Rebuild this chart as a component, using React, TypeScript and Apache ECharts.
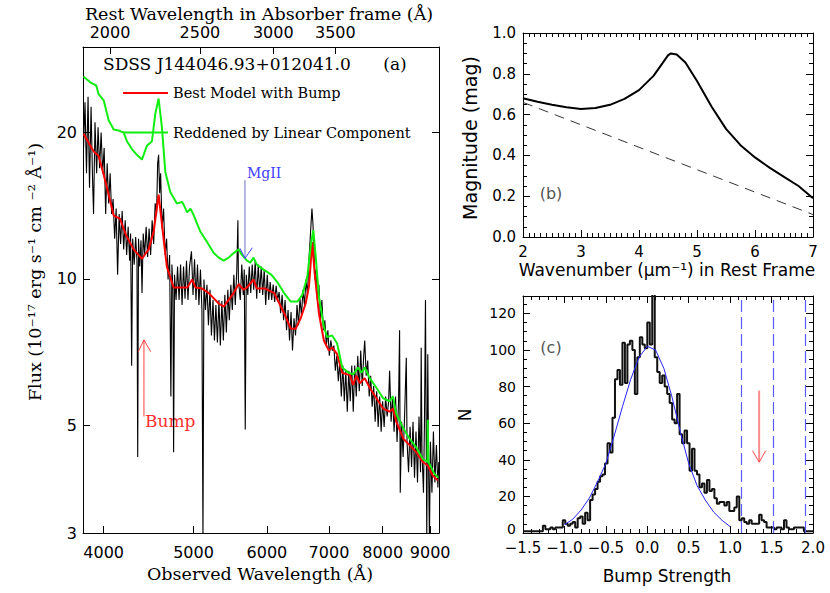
import React, { useEffect, useRef } from 'react';
import * as echarts from 'echarts';

// ---------- Panel (a): spectrum of SDSS J144046.93+012041.0 ----------
const specWave = [
  3805, 3819, 3833, 3848, 3862, 3877, 3891, 3901, 3915, 3931,
  3945, 3960, 3975, 3990, 4005, 4020, 4035, 4050, 4065, 4080,
  4095, 4111, 4126, 4141, 4157, 4172, 4188, 4204, 4220, 4235,
  4251, 4267, 4277, 4288, 4299, 4315, 4331, 4345, 4353, 4362,
  4374, 4389, 4400, 4413, 4429, 4445, 4462, 4478, 4495, 4512,
  4529, 4546, 4562, 4574, 4585, 4597, 4608, 4625, 4642, 4660,
  4677, 4694, 4712, 4727, 4739, 4751, 4759, 4770, 4788, 4806,
  4824, 4842, 4860, 4878, 4896, 4914, 4932, 4951, 4975, 4994,
  5013, 5031, 5050, 5068, 5087, 5106, 5119, 5131, 5151, 5170,
  5189, 5209, 5228, 5248, 5267, 5286, 5306, 5326, 5345, 5365,
  5385, 5405, 5425, 5445, 5465, 5486, 5506, 5527, 5547, 5568,
  5583, 5590, 5616, 5637, 5658, 5672, 5686, 5700, 5722, 5743,
  5764, 5785, 5807, 5828, 5850, 5872, 5894, 5916, 5938, 5960,
  5982, 6005, 6027, 6049, 6072, 6094, 6117, 6139, 6162, 6185,
  6208, 6231, 6254, 6277, 6300, 6324, 6347, 6371, 6394, 6418,
  6442, 6466, 6490, 6514, 6538, 6563, 6587, 6612, 6636, 6661,
  6686, 6710, 6727, 6743, 6760, 6777, 6802, 6827, 6853, 6878,
  6904, 6929, 6955, 6981, 7006, 7032, 7059, 7085, 7112, 7138,
  7165, 7191, 7218, 7245, 7272, 7299, 7326, 7353, 7380, 7408,
  7435, 7463, 7491, 7519, 7547, 7575, 7603, 7631, 7650, 7678,
  7707, 7736, 7764, 7793, 7822, 7851, 7881, 7910, 7939, 7969,
  7998, 8028, 8058, 8088, 8118, 8138, 8168, 8198, 8229, 8259,
  8290, 8321, 8342, 8356, 8384, 8415, 8446, 8482, 8498, 8530,
  8562, 8594, 8625, 8657, 8689, 8722, 8754, 8787, 8802, 8819,
  8852, 8874, 8896, 8925, 8947, 8967, 8984, 9006, 9040, 9073,
  9107, 9141, 9175, 9195,
];
const specFlux = [
  18.6, 23.1, 16.5, 23.7, 15.4, 22.6, 16.1, 13.6, 21.0, 16.5,
  20.5, 16.9, 20.0, 16.5, 18.6, 13.6, 17.3, 14.3, 16.5, 13.6,
  14.6, 12.1, 13.95, 10.2, 13.6, 11.8, 13.8, 11.5, 13.2, 11.2,
  12.8, 10.9, 12.4, 6.63, 12.1, 10.7, 12.2, 10.9, 4.3, 12.1,
  10.6, 12.0, 9.35, 12.4, 11.2, 12.8, 11.1, 12.7, 11.2, 13.2,
  11.8, 14.3, 13.6, 17.3, 18.0, 15.0, 16.5, 12.7, 13.95, 11.2,
  12.1, 9.97, 11.2, 5.73, 10.7, 9.5, 4.4, 10.2, 9.05, 10.6,
  9.05, 10.7, 8.84, 10.6, 9.1, 10.9, 9.05, 10.6, 11.4, 9.27,
  10.97, 9.05, 10.7, 8.84, 10.45, 8.63, 2.9, 9.97, 8.63, 9.73,
  8.03, 9.5, 7.65, 9.05, 7.47, 8.84, 7.4, 9.05, 7.29, 9.0,
  7.47, 9.27, 7.76, 9.5, 8.22, 9.73, 8.63, 10.2, 8.84, 10.45,
  13.2, 9.97, 9.05, 10.7, 9.27, 10.45, 4.9, 10.2, 9.27, 10.6,
  9.35, 10.7, 9.5, 10.9, 9.1, 10.7, 9.35, 10.6, 9.27, 10.45,
  8.84, 10.2, 9.05, 9.85, 9.05, 9.73, 8.96, 9.68, 9.05, 9.4,
  8.5, 9.27, 8.22, 9.05, 7.84, 8.63, 7.47, 8.55, 7.12, 8.3,
  7.65, 8.84, 8.03, 9.1, 8.42, 9.5, 8.84, 9.97, 9.27, 10.97,
  12.4, 13.95, 13.0, 11.5, 9.97, 10.45, 9.05, 9.73, 8.22, 9.05,
  7.84, 8.22, 7.29, 7.84, 6.95, 7.47, 7.12, 7.29, 6.47, 6.95,
  6.16, 6.79, 5.73, 6.63, 5.6, 6.47, 5.33, 6.47, 5.6, 6.63,
  5.33, 6.63, 5.73, 6.95, 5.87, 7.12, 6.02, 6.95, 7.47, 6.32,
  6.79, 5.73, 6.32, 5.46, 6.02, 5.08, 5.87, 4.96, 5.73, 4.85,
  5.6, 4.96, 5.73, 5.21, 5.6, 6.47, 5.08, 5.73, 4.85, 5.73,
  4.62, 5.6, 7.84, 3.63, 5.08, 4.3, 5.21, 6.88, 4.62, 4.0,
  4.96, 4.1, 5.08, 3.9, 4.85, 3.81, 5.21, 4.0, 7.22, 4.4,
  3.63, 5.08, 9.05, 2.9, 7.0, 4.0, 2.9, 4.62, 3.63, 4.85,
  3.81, 4.55, 3.72, 4.2,
];
const modelWave = [
  3805, 3901, 3950, 4000, 4033, 4101, 4165, 4229, 4309, 4399,
  4473, 4529, 4585, 4642, 4680, 4759, 4818, 4862, 4923, 4984,
  5025, 5110, 5193, 5323, 5389, 5456, 5524, 5593, 5663, 5710,
  5804, 5852, 5975, 6109, 6262, 6366, 6445, 6525, 6606, 6661,
  6715, 6755, 6827, 6912, 6998, 7055, 7144, 7233, 7324, 7371,
  7432, 7494, 7556, 7650, 7745, 7876, 8008, 8138, 8205, 8275,
  8421, 8551, 8695, 8838, 8947, 9059, 9172,
];
const modelFlux = [
  19.9, 18.3, 17.9, 16.4, 15.4, 13.5, 13.3, 12.3, 11.5, 11.0,
  11.5, 12.5, 14.9, 12.1, 10.6, 9.6, 9.6, 9.6, 9.6, 9.97,
  9.6, 9.55, 9.35, 8.9, 8.77, 9.05, 9.35, 9.75, 9.5, 9.6,
  9.97, 9.55, 9.55, 9.35, 8.5, 7.9, 7.9, 8.3, 8.9, 9.65,
  11.9, 10.3, 8.5, 7.47, 7.12, 7.23, 7.0, 6.41, 6.36, 6.36,
  6.05, 6.32, 6.1, 6.25, 5.97, 5.68, 5.41, 5.33, 5.41, 5.08,
  4.69, 4.55, 4.4, 4.2, 4.13, 3.94, 3.85,
];
const reddenWave = [
  3805, 3877, 3927, 3950, 4000, 4050, 4101, 4152, 4204, 4238,
  4291, 4344, 4399, 4454, 4510, 4548, 4585, 4623, 4662, 4720,
  4798, 4862, 4923, 4963, 5004, 5087, 5173, 5258, 5323, 5389,
  5456, 5524, 5593, 5640, 5710, 5757, 5804, 5852, 5950, 6066,
  6169, 6262, 6366, 6472, 6552, 6633, 6690, 6733, 6774, 6827,
  6912, 6969, 7055, 7144, 7233, 7353, 7432, 7525, 7588, 7650,
  7745, 7876, 8008, 8138, 8205, 8275, 8421, 8551, 8695, 8838,
  8940, 8947, 8962, 9096, 9186,
];
const reddenFlux = [
  26.1, 25.3, 25.0, 24.0, 23.3, 21.2, 20.3, 20.2, 20.0, 19.2,
  18.5, 18.0, 17.6, 18.8, 19.2, 21.9, 23.5, 20.5, 16.6, 15.1,
  14.3, 14.4, 13.7, 13.95, 13.5, 12.5, 11.9, 11.3, 11.06, 10.9,
  11.06, 11.3, 11.5, 11.2, 10.9, 10.8, 11.06, 10.7, 10.45, 10.2,
  9.8, 9.35, 8.98, 8.98, 9.27, 10.1, 11.7, 12.6, 11.1, 9.2,
  7.97, 7.59, 7.65, 7.36, 6.57, 6.41, 6.36, 6.57, 6.41, 6.57,
  6.25, 5.97, 5.68, 5.6, 5.73, 5.27, 4.93, 4.69, 4.5, 4.26,
  4.2, 5.13, 4.2, 3.97, 3.9,
];
const obsTicks = [4000, 5000, 6000, 7000, 8000, 9000];
const restTicks = [2000, 2500, 3000, 3500];
const fluxTicks = [3, 5, 10, 20];
const obsRange = [3800, 9200];
const fluxRange = [3, 30];
const onePlusZ = 2.032;
// annotation arrows (data units)
const bumpArrowWave = [4359, 4421, 4496];
const bumpArrowFlux = [7.08, 7.49, 5.21];
const mgArrowWave = [5612, 5682, 5786];
const mgArrowFlux = [11.56, 11.02, 11.59, 15.97];

// ---------- Panel (b): extinction curve ----------
const extX = [2.0, 2.25, 2.5, 2.75, 3.0, 3.25, 3.5, 3.75, 4.0, 4.25, 4.4, 4.5, 4.55, 4.65, 4.8, 5.0, 5.25, 5.5, 5.75, 6.0, 6.25, 6.5, 6.75, 7.0];
const extMag = [0.68, 0.663, 0.648, 0.636, 0.628, 0.632, 0.648, 0.677, 0.72, 0.79, 0.85, 0.89, 0.9, 0.895, 0.855, 0.765, 0.64, 0.53, 0.45, 0.39, 0.34, 0.295, 0.25, 0.19];
const linX = [2.0, 7.0];
const linMag = [0.66, 0.11];

// ---------- Panel (c): bump strength histogram ----------
const histEdges = [
  -1.50, -1.47, -1.44, -1.41, -1.38, -1.35, -1.32, -1.29, -1.26, -1.23,
  -1.20, -1.17, -1.14, -1.11, -1.08, -1.05, -1.02, -0.99, -0.96, -0.93,
  -0.90, -0.87, -0.84, -0.81, -0.78, -0.75, -0.72, -0.69, -0.66, -0.63,
  -0.60, -0.57, -0.54, -0.51, -0.48, -0.45, -0.42, -0.39, -0.36, -0.33,
  -0.30, -0.27, -0.24, -0.21, -0.18, -0.15, -0.12, -0.09, -0.06, -0.03,
  0.00, 0.03, 0.06, 0.09, 0.12, 0.15, 0.18, 0.21, 0.24, 0.27,
  0.30, 0.33, 0.36, 0.39, 0.42, 0.45, 0.48, 0.51, 0.54, 0.57,
  0.60, 0.63, 0.66, 0.69, 0.72, 0.75, 0.78, 0.81, 0.84, 0.87,
  0.90, 0.93, 0.96, 0.99, 1.02, 1.05, 1.08, 1.11, 1.14, 1.17,
  1.20, 1.23, 1.26, 1.29, 1.32, 1.35, 1.38, 1.41, 1.44, 1.47,
  1.50, 1.53, 1.56, 1.59, 1.62, 1.65, 1.68, 1.71, 1.74, 1.77,
  1.80, 1.83, 1.86, 1.89, 1.92, 1.95, 1.98, 2.01,
];
const histCounts = [
  1, 1, 1, 1, 1, 1, 1, 1, 4, 2,
  2, 3, 2, 3, 3, 3, 7, 5, 4, 5,
  6, 3, 8, 9, 5, 11, 7, 18, 21, 24,
  28, 31, 32, 38, 49, 44, 63, 84, 89, 81,
  104, 82, 103, 105, 100, 76, 96, 107, 103, 101,
  115, 103, 135, 96, 88, 82, 86, 80, 76, 71,
  62, 60, 76, 54, 49, 56, 49, 34, 46, 34,
  32, 25, 27, 22, 29, 23, 24, 19, 16, 17,
  17, 15, 17, 12, 12, 14, 20, 7, 8, 6,
  5, 7, 5, 5, 5, 10, 7, 6, 3, 3,
  3, 2, 3, 3, 2, 7, 3, 2, 2, 3,
  3, 3, 3, 1, 1, 1, 1,
];
const gaussX = [-1.0, -0.9, -0.8, -0.7, -0.6, -0.5, -0.4, -0.3, -0.2, -0.1, 0.0, 0.1, 0.2, 0.3, 0.4, 0.5, 0.6, 0.7, 0.8, 0.9, 1.0];
const gaussN = [4.5, 7.5, 12.5, 19, 28, 38, 53, 69, 84, 96, 102, 100, 90, 74, 55, 38, 26, 18, 11.5, 7, 3.5];
const thresholds = [1.142, 1.523, 1.908];
const cArrowX = [1.27, 1.35, 1.43];
const cArrowN = [45, 38.7, 77.8];

const L = (v: number) => Math.log10(v);
const SERIF = 'DejaVu Serif';
const SANS = 'DejaVu Sans';

function boxAxis(gridIndex: number, pos: string, extra: any, labels: boolean, labelStyle: any) {
  return {
    gridIndex,
    type: 'value',
    position: pos,
    axisLine: { show: true, onZero: false, lineStyle: { color: '#000', width: 1 } },
    axisTick: { show: true, inside: true, length: 7, lineStyle: { color: '#000', width: 1 }, ...(extra.axisTick || {}) },
    minorTick: extra.minorTick ? { show: true, length: 4, lineStyle: { color: '#000', width: 1 }, ...extra.minorTick } : { show: false },
    axisLabel: labels
      ? { show: true, color: '#000', fontFamily: SANS, ...labelStyle }
      : { show: false },
    splitLine: { show: false },
    minorSplitLine: { show: false },
    ...extra.scale,
  };
}

function lineSeries(xi: number, yi: number, data: any[], color: string, width: number, z: number, type: any = 'solid', step: any = false) {
  return {
    type: 'line',
    xAxisIndex: xi,
    yAxisIndex: yi,
    data,
    symbol: 'none',
    showSymbol: false,
    silent: true,
    step,
    clip: true,
    z,
    lineStyle: { color, width, type },
  };
}

export default function App() {
  const ref = useRef<HTMLDivElement>(null);
  useEffect(() => {
    if (!ref.current) return;
    const chart = echarts.init(ref.current, null, { renderer: 'svg' });

    const obsScale = { min: L(obsRange[0]), max: L(obsRange[1]) };
    const restScale = { min: L(obsRange[0] / onePlusZ), max: L(obsRange[1] / onePlusZ) };
    const fluxScale = { min: L(fluxRange[0]), max: L(fluxRange[1]) };
    const pow = (v: number) => String(Math.round(Math.pow(10, v)));

    const obsTickVals = obsTicks.map(L);
    const restTickVals = restTicks.map(L);
    const fluxTickVals = fluxTicks.map(L);

    const bScaleX = { min: 2, max: 7, interval: 1 };
    const bScaleY = { min: 0, max: 1, interval: 0.2 };
    const cScaleX = { min: -1.5, max: 2.0, interval: 0.5 };
    const cScaleY = { min: 0, max: 129.5, interval: 20 };

    const xAxis = [
      boxAxis(0, 'bottom', { scale: obsScale, axisTick: { customValues: obsTickVals } }, true,
        { customValues: obsTickVals, formatter: pow, margin: 11, fontSize: 16 }),
      boxAxis(0, 'top', { scale: restScale, axisTick: { customValues: restTickVals } }, true,
        { customValues: restTickVals, formatter: pow, margin: 7, fontSize: 16 }),
      boxAxis(1, 'bottom', { scale: bScaleX, minorTick: { splitNumber: 10 } }, true,
        { margin: 7, fontSize: 15, formatter: (v: number) => String(v) }),
      boxAxis(1, 'top', { scale: bScaleX, minorTick: { splitNumber: 10 } }, false, {}),
      boxAxis(2, 'bottom', { scale: cScaleX, minorTick: { splitNumber: 5 } }, true,
        { margin: 7, fontSize: 15, showMinLabel: true, showMaxLabel: true,
          formatter: (v: number) => (v < 0 ? '\u2212' + Math.abs(v).toFixed(1) : v.toFixed(1)) }),
      boxAxis(2, 'top', { scale: cScaleX, minorTick: { splitNumber: 5 } }, false, {}),
    ];
    const yAxis = [
      boxAxis(0, 'left', { scale: fluxScale, axisTick: { customValues: fluxTickVals } }, true,
        { customValues: fluxTickVals, formatter: pow, margin: 6, fontSize: 16 }),
      boxAxis(0, 'right', { scale: fluxScale, axisTick: { customValues: fluxTickVals } }, false, {}),
      boxAxis(1, 'left', { scale: bScaleY, minorTick: { splitNumber: 4 } }, true,
        { margin: 7, fontSize: 15, formatter: (v: number) => v.toFixed(1) }),
      boxAxis(1, 'right', { scale: bScaleY, minorTick: { splitNumber: 4 } }, false, {}),
      boxAxis(2, 'left', { scale: cScaleY, minorTick: { splitNumber: 4 } }, true,
        { margin: 7, fontSize: 14, showMaxLabel: false,
          formatter: (v: number) => (v === 0 ? '{z|0}' : v % 20 === 0 ? String(v) : ''),
          rich: { z: { fontFamily: SANS, fontSize: 14, color: '#000', padding: [0, 0, 9, 0] } } }),
      boxAxis(2, 'right', { scale: cScaleY, minorTick: { splitNumber: 4 } }, false, {}),
    ];

    const spec = specWave.map((w, i) => [L(w), L(specFlux[i])]);
    const model = modelWave.map((w, i) => [L(w), L(modelFlux[i])]);
    const redden = reddenWave.map((w, i) => [L(w), L(reddenFlux[i])]);

    const bumpShaft = [[L(bumpArrowWave[1]), L(bumpArrowFlux[1])], [L(bumpArrowWave[1]), L(bumpArrowFlux[2])]];
    const bumpHead = [
      [L(bumpArrowWave[0]), L(bumpArrowFlux[0])],
      [L(bumpArrowWave[1]), L(bumpArrowFlux[1])],
      [L(bumpArrowWave[2]), L(bumpArrowFlux[0])],
    ];
    const mgShaft = [[L(mgArrowWave[1]), L(mgArrowFlux[3])], [L(mgArrowWave[1]), L(mgArrowFlux[1])]];
    const mgHead = [
      [L(mgArrowWave[0]), L(mgArrowFlux[0])],
      [L(mgArrowWave[1]), L(mgArrowFlux[1])],
      [L(mgArrowWave[2]), L(mgArrowFlux[2])],
    ];

    const ext = extX.map((x, i) => [x, extMag[i]]);
    const lin = linX.map((x, i) => [x, linMag[i]]);

    const hist: number[][] = histCounts.map((c, i) => [histEdges[i], c]);
    hist.push([histEdges[histEdges.length - 1], histCounts[histCounts.length - 1]]);
    const gauss = gaussX.map((x, i) => [x, gaussN[i]]);
    const cShaft = [[cArrowX[1], cArrowN[2]], [cArrowX[1], cArrowN[1]]];
    const cHead = [[cArrowX[0], cArrowN[0]], [cArrowX[1], cArrowN[1]], [cArrowX[2], cArrowN[0]]];

    const histSeries: any = lineSeries(4, 4, hist, '#111', 2, 3, 'solid', 'end');
    histSeries.markLine = {
      silent: true,
      symbol: ['none', 'none'],
      label: { show: false },
      lineStyle: { color: '#5a5aff', width: 1.2, type: [12, 5] },
      data: thresholds.map((t) => ({ xAxis: t })),
    };

    const txt = (x: number, y: number, text: string, size: number, family: string, color = '#000', align = 'left', rotation = 0) => ({
      type: 'text',
      x,
      y,
      rotation,
      silent: true,
      style: {
        text,
        fill: color,
        fontSize: size,
        fontFamily: family,
        align,
        verticalAlign: 'middle',
        textAlign: align,
        textVerticalAlign: 'middle',
      },
    });

    chart.setOption({
      animation: false,
      backgroundColor: '#fff',
      grid: [
        { left: 83, top: 47, width: 356, height: 486 },
        { left: 523, top: 33, width: 290, height: 204 },
        { left: 523, top: 296, width: 290, height: 237 },
      ],
      xAxis,
      yAxis,
      series: [
        lineSeries(0, 0, spec, '#000', 1.1, 2),
        lineSeries(0, 0, model, '#ff0000', 2, 3),
        lineSeries(0, 0, redden, '#11ee11', 2, 4),
        lineSeries(0, 0, bumpShaft, '#ff4040', 1, 5),
        lineSeries(0, 0, bumpHead, '#ff4040', 1, 5),
        lineSeries(0, 0, mgShaft, '#7070c8', 1, 5),
        lineSeries(0, 0, mgHead, '#4040ff', 1, 5),
        lineSeries(2, 2, ext, '#000', 2, 3),
        lineSeries(2, 2, lin, '#333', 1, 3, [10, 7]),
        histSeries,
        lineSeries(4, 4, gauss, '#2525ff', 1, 4),
        lineSeries(4, 4, cShaft, '#ff8c8c', 2, 5),
        lineSeries(4, 4, cHead, '#ff5050', 1, 5),
      ],
      graphic: [
        txt(259, 14, 'Rest Wavelength in Absorber frame (\u00c5)', 17.5, SERIF, '#000', 'center'),
        txt(260, 574, 'Observed Wavelength (\u00c5)', 17.5, SERIF, '#000', 'center'),
        txt(35, 272, 'Flux (10\u207b\u00b9\u2077 erg s\u207b\u00b9 cm \u207b\u00b2 \u00c5\u207b\u00b9)', 17.5, SERIF, '#000', 'center', Math.PI / 2),
        txt(103, 64, 'SDSS J144046.93+012041.0', 17, SERIF),
        txt(395, 64, '(a)', 17, SERIF, '#000', 'center'),
        { type: 'line', silent: true, shape: { x1: 123, y1: 93, x2: 168, y2: 93 }, style: { stroke: '#ff0000', lineWidth: 2 } },
        { type: 'line', silent: true, shape: { x1: 123, y1: 132.5, x2: 168, y2: 132.5 }, style: { stroke: '#11ee11', lineWidth: 2 } },
        txt(173, 93, 'Best Model with Bump', 14.5, SERIF),
        txt(173, 132.5, 'Reddened by Linear Component', 14.5, SERIF),
        txt(247, 173, 'MgII', 14, SERIF, '#4040ff'),
        txt(145, 421, 'Bump', 17, SERIF, '#ff3030'),
        txt(470, 138, 'Magnitude (mag)', 19, SANS, '#000', 'center', Math.PI / 2),
        txt(667, 270, 'Wavenumber (\u03bcm\u207b\u00b9) in Rest Frame', 17, SANS, '#000', 'center'),
        txt(551, 193, '(b)', 16, SANS, '#555', 'center'),
        txt(551, 347, '(c)', 16, SANS, '#555', 'center'),
        txt(465, 415, 'N', 17, SANS, '#000', 'center', Math.PI / 2),
        txt(667, 576, 'Bump Strength', 17, SANS, '#000', 'center'),
      ],
    });
    return () => chart.dispose();
  }, []);
  return <div ref={ref} style={{ position: 'fixed', left: 0, top: 0, width: 830, height: 593, background: '#fff' }} />;
}
